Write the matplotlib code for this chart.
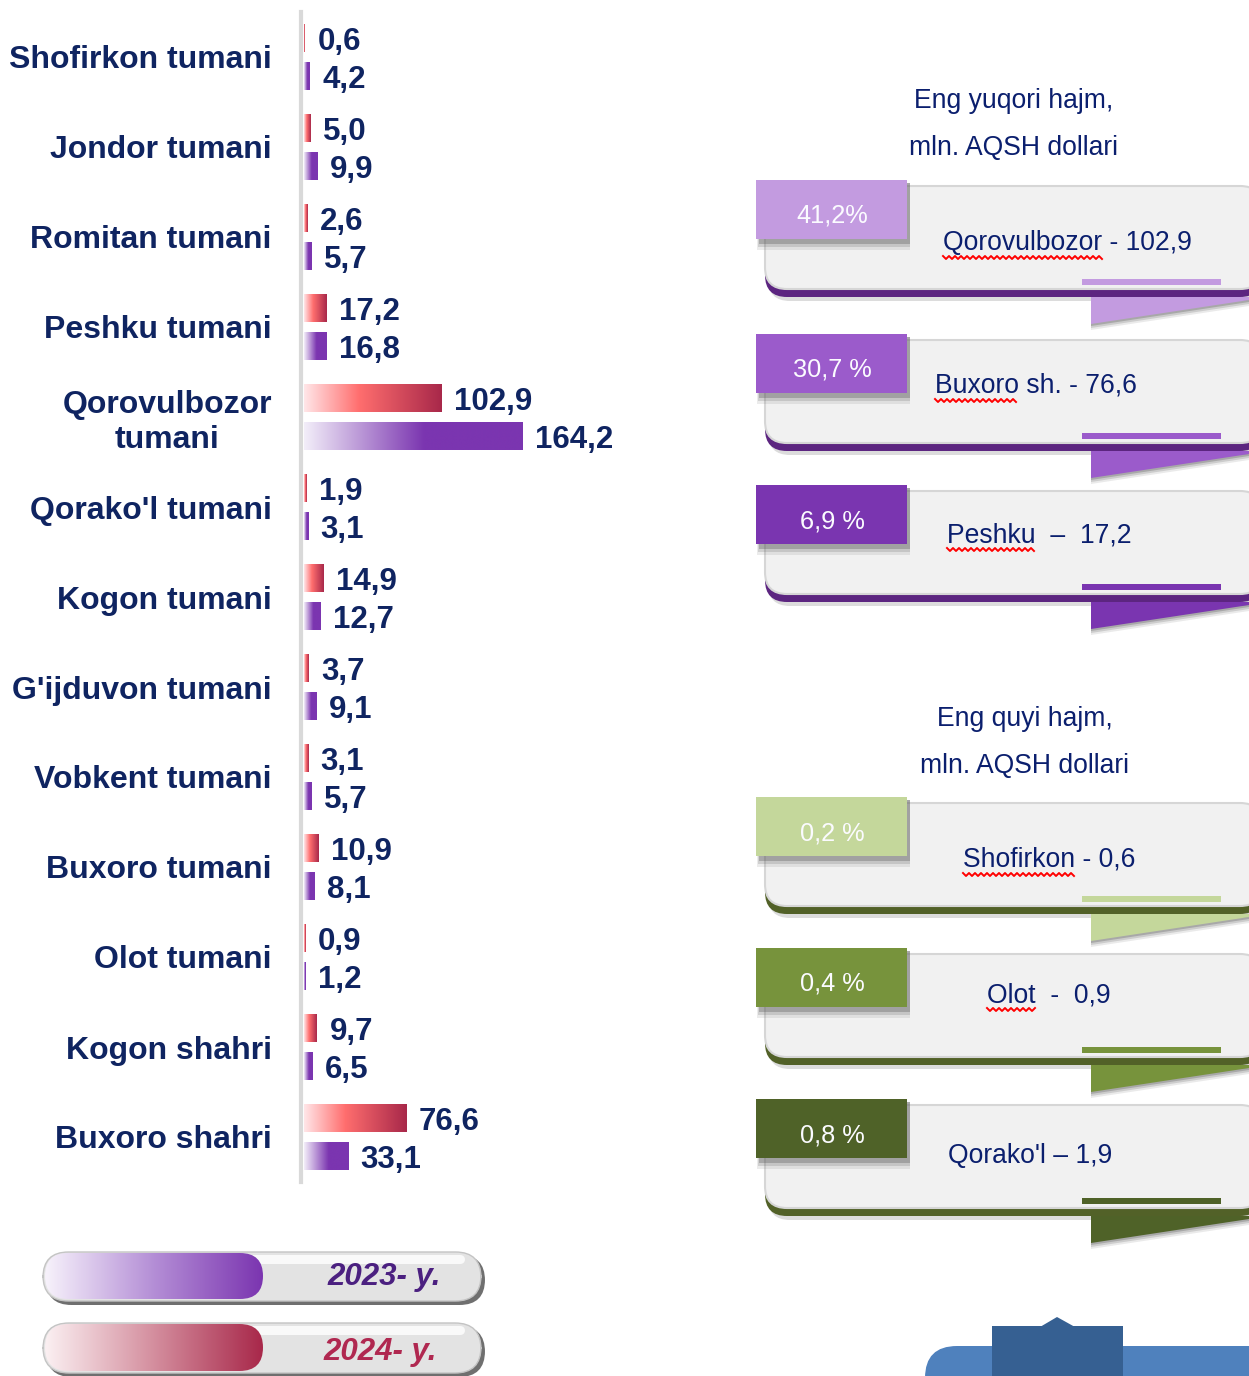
import numpy as np
import matplotlib
matplotlib.use('Agg')
import matplotlib.pyplot as plt
from matplotlib.colors import LinearSegmentedColormap
from matplotlib.patches import FancyBboxPatch, Polygon, Rectangle
from matplotlib import font_manager

# ---- data ----
categories = ['Shofirkon tumani', 'Jondor tumani', 'Romitan tumani', 'Peshku tumani',
              'Qorovulbozor\ntumani', "Qorako'l tumani", 'Kogon tumani', "G'ijduvon tumani",
              'Vobkent tumani', 'Buxoro tumani', 'Olot tumani', 'Kogon shahri', 'Buxoro shahri']
values_2024 = [0.6, 5.0, 2.6, 17.2, 102.9, 1.9, 14.9, 3.7, 3.1, 10.9, 0.9, 9.7, 76.6]
values_2023 = [4.2, 9.9, 5.7, 16.8, 164.2, 3.1, 12.7, 9.1, 5.7, 8.1, 1.2, 6.5, 33.1]
legend_labels = ['2023- y.', '2024- y.']

top_title = ['Eng yuqori hajm,', 'mln. AQSH dollari']
low_title = ['Eng quyi hajm,', 'mln. AQSH dollari']
top_shares = ['41,2%', '30,7 %', '6,9 %']
top_names = ['Qorovulbozor - 102,9', 'Buxoro sh. - 76,6', 'Peshku  \u2013  17,2']
low_shares = ['0,2 %', '0,4 %', '0,8 %']
low_names = ['Shofirkon - 0,6', 'Olot  -  0,9', "Qorako'l \u2013 1,9"]
squiggly = [True, True, True, True, True, False]

# ---- style ----
NAVY = '#0f2461'
BLUE_TXT = '#0b1f6e'
tab_colors = ['#c39be0', '#9b5bcb', '#7a35b0', '#c4d79b', '#77933c', '#4f6228']
border_colors = ['#5c2580'] * 3 + ['#526128'] * 3
box_tops = [180, 334, 485, 797, 948, 1099]
name_x = [943, 935, 947, 963, 987, 948]
name_dy = [70, 59, 57, 70, 54, 64]

names = {f.name for f in font_manager.fontManager.ttflist}
if 'Liberation Sans Narrow' in names:
    NARROW, NS = 'Liberation Sans Narrow', 1.0
else:
    NARROW, NS = 'Liberation Sans', 0.83

red_cmap = LinearSegmentedColormap.from_list(
    'r', [(0, '#ffe6e8'), (0.4, '#ff6e6e'), (1, '#a8284a')])
pur_cmap = LinearSegmentedColormap.from_list(
    'p', [(0, '#f3eef9'), (0.55, '#7b35b0'), (1, '#7b35b0')])
leg_cmaps = [LinearSegmentedColormap.from_list('l1', ['#f7f2fb', '#b48ed6', '#7b35b0']),
             LinearSegmentedColormap.from_list('l2', ['#fbf0f2', '#d48e9e', '#a8284a'])]
grad = np.linspace(0, 1, 256).reshape(1, -1)

W, H = 1249, 1376
fig = plt.figure(figsize=(W / 100, H / 100), dpi=100)

# ---- bar chart ----
ax = fig.add_axes([301 / W, 1 - 1182 / H, 400 / W, 1170 / H])
scale = 4 / 3
y = np.arange(len(categories))
b24 = ax.barh(y - 0.21, values_2024, height=0.31, color='#e05060', zorder=2)
b23 = ax.barh(y + 0.21, values_2023, height=0.31, color='#7b35b0', zorder=2)
for bars, cmap, vals in ((b24, red_cmap, values_2024), (b23, pur_cmap, values_2023)):
    for bar, v in zip(bars, vals):
        bx, by, bw, bh = bar.get_x(), bar.get_y(), bar.get_width(), bar.get_height()
        ax.imshow(grad, cmap=cmap, extent=(bx, bx + bw, by + bh, by), aspect='auto',
                  zorder=3, interpolation='bilinear')
        ax.annotate(f'{v:.1f}'.replace('.', ','), xy=(bx + bw, by + bh / 2),
                    xytext=(9, -3), textcoords='offset points', va='center', ha='left',
                    fontsize=22.5, fontweight='bold', color=NAVY, family='Liberation Sans')

ax.set_xlim(-3 / scale, (701 - 304) / scale)
ax.set_ylim(12.5, -0.5)
ax.set_xticks([])
ax.set_yticks(y, categories)
ax.tick_params(axis='y', length=0, pad=21)
for lab in ax.get_yticklabels():
    lab.set_multialignment('center')
    lab.set_fontsize(23)
    lab.set_fontweight('bold')
    lab.set_color(NAVY)
    lab.set_family('Liberation Sans')
for s in ('top', 'right', 'bottom'):
    ax.spines[s].set_visible(False)
ax.spines['left'].set_color('#d9d9d9')
ax.spines['left'].set_linewidth(3)

# ---- overlay in pixel coordinates ----
ov = fig.add_axes([0, 0, 1, 1])
ov.set_xlim(0, W)
ov.set_ylim(H, 0)
ov.axis('off')
ov.patch.set_alpha(0)


def rbox(x0, y0, x1, y1, r, **kw):
    p = FancyBboxPatch((x0, y0), x1 - x0, y1 - y0,
                       boxstyle=f'round,pad=0,rounding_size={r}', **kw)
    ov.add_patch(p)
    return p


for tx, lines in ((1014, top_title), (1025, low_title)):
    base = 108 if lines is top_title else 726
    for k, line in enumerate(lines):
        ov.text(tx, base + 47 * k, line, ha='center', va='baseline', family=NARROW,
                fontsize=23 * NS, color=BLUE_TXT)

renderer = fig.canvas.get_renderer()
shares = top_shares + low_shares
box_names = top_names + low_names
for i, T in enumerate(box_tops):
    tc, bc = tab_colors[i], border_colors[i]
    # soft shadow of main box
    rbox(768, T + 9, 1262, T + 121, 22, facecolor='#dcdcdc', edgecolor='none', zorder=1)
    # border (dark bottom edge)
    rbox(765, T + 6, 1262, T + 117, 22, facecolor=bc, edgecolor='none', zorder=2)
    # main grey panel
    rbox(765, T + 6, 1262, T + 109, 22, facecolor='#f1f1f1', edgecolor='#d6d6d6',
         linewidth=1.5, zorder=3)
    # inner accent bar
    ov.add_patch(Rectangle((1082, T + 99), 139, 6, facecolor=tc, edgecolor='none', zorder=4))
    # ribbon fold + shadow
    for k, a in enumerate((0.12, 0.2, 0.3)):
        ov.add_patch(Polygon([(1091, T + 117), (1091, T + 150 - 2 * k),
                              (1249, T + 126 - 2 * k), (1249, T + 117)],
                             closed=True, facecolor='#555555', alpha=a, edgecolor='none',
                             zorder=2))
    ov.add_patch(Polygon([(1091, T + 117), (1091, T + 144), (1249, T + 120), (1249, T + 117)],
                         closed=True, facecolor=tc, edgecolor='none', zorder=2.5))
    # tab shadow + tab
    for k, a in enumerate((0.12, 0.2, 0.35)):
        ov.add_patch(Rectangle((759 - 2 + k, T + 3), 151 + 2 - k, 67 - 3 * k,
                               facecolor='#606060', alpha=a, edgecolor='none', zorder=5))
    ov.add_patch(Rectangle((756, T), 151, 59, facecolor=tc, edgecolor='none', zorder=6))
    ov.text(832, T + 43, shares[i], ha='center', va='baseline', family=NARROW,
            fontsize=22 * NS, color='#fbfbff', zorder=7)
    # name text
    nb = T + name_dy[i]
    ov.text(name_x[i], nb, box_names[i], ha='left', va='baseline', family=NARROW,
            fontsize=23 * NS, color=BLUE_TXT, zorder=7)
    if squiggly[i]:
        word = box_names[i].split(' ')[0]
        t = ov.text(name_x[i], nb, word, ha='left', va='baseline', family=NARROW,
                    fontsize=23 * NS)
        bb = t.get_window_extent(renderer)
        t.remove()
        xs = np.arange(bb.x0, bb.x1, 3.0)
        ys = nb + 6 + 3 * (np.arange(len(xs)) % 2)
        ov.plot(xs, ys, color='red', lw=1.4, zorder=7)

# ---- legend pills ----
pill_rows = [(1252, 1303, 1285), (1323, 1375, 1360)]
text_colors = ['#4b2080', '#b02850']
text_x = [327, 323]
for k, (py0, py1, base) in enumerate(pill_rows):
    h = py1 - py0
    rbox(46, py0 + 3, 485, py1 + 2, h / 2, facecolor='#6f6f6f', edgecolor='none', zorder=1)
    rbox(43, py0, 481, py1 - 2, h / 2, facecolor='#e3e3e3', edgecolor='#c4c4c4',
         linewidth=1, zorder=2)
    rbox(70, py0 + 3, 465, py0 + 12, 5, facecolor='white', alpha=0.8, edgecolor='none',
         zorder=3)
    clip = rbox(45, py0 + 1, 263, py1 - 4, (h - 5) / 2, facecolor='none', edgecolor='none',
                zorder=4)
    im = ov.imshow(grad, cmap=leg_cmaps[k], extent=(45, 263, py1 - 4, py0 + 1),
                   aspect='auto', zorder=4, interpolation='bilinear')
    im.set_clip_path(clip)
    ov.text(text_x[k], base, legend_labels[k], ha='left', va='baseline',
            family='Liberation Sans', fontweight='bold', fontstyle='italic',
            fontsize=22.5, color=text_colors[k], zorder=5)

# ---- bottom-right decoration ----
rbox(925, 1346, 1290, 1420, 32, facecolor='#4f81bd', edgecolor='none', zorder=1)
ov.add_patch(Rectangle((992, 1326), 131, 60, facecolor='#366092', edgecolor='none', zorder=2))
ov.add_patch(Polygon([(1040, 1327), (1057, 1317), (1075, 1327)], closed=True,
                     facecolor='#366092', edgecolor='none', zorder=2))

ov.set_xlim(0, W)
ov.set_ylim(H, 0)

fig.savefig('out.png', dpi=100)
